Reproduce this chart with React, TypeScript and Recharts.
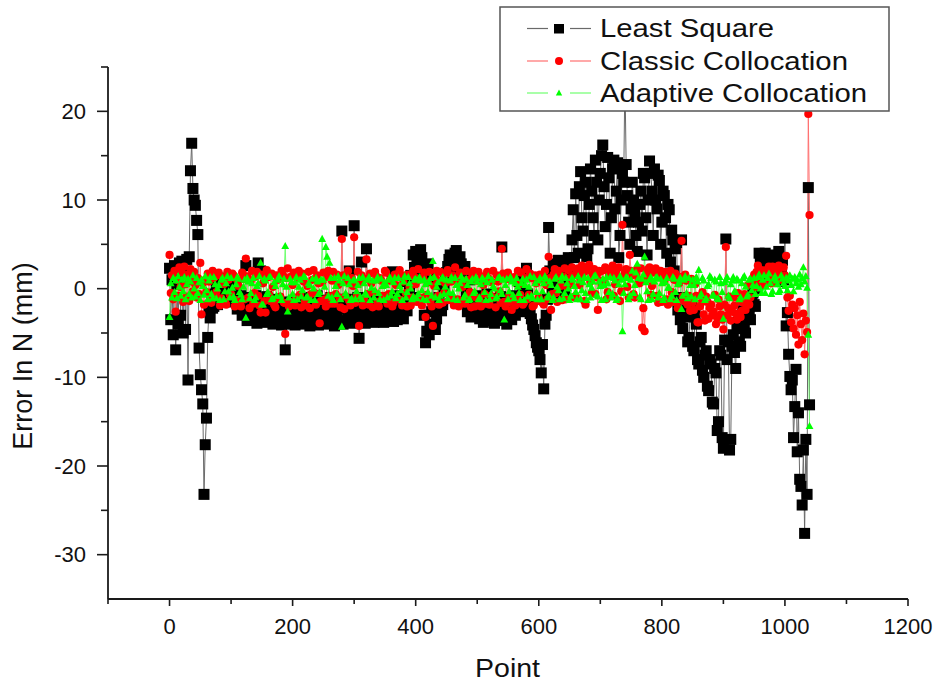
import React from 'react';
import { LineChart, Line, XAxis, YAxis } from 'recharts';

// Point index (x values)
const points = [
  0, 2, 4, 6, 8, 10, 12, 14, 16, 18, 20, 22, 24, 26, 28, 30, 32, 34, 36, 38, 40, 42, 44, 46, 48,
  50, 52, 54, 56, 58, 60, 62, 64, 66, 68, 70, 72, 74, 76, 78, 80, 82, 84, 86, 88, 90, 92, 94, 96, 98,
  100, 102, 104, 106, 108, 110, 112, 114, 116, 118, 120, 122, 124, 126, 128, 130, 132, 134, 136, 138, 140, 142, 144, 146, 148,
  150, 152, 154, 156, 158, 160, 162, 164, 166, 168, 170, 172, 174, 176, 178, 180, 182, 184, 186, 188, 190, 192, 194, 196, 198,
  200, 202, 204, 206, 208, 210, 212, 214, 216, 218, 220, 222, 224, 226, 228, 230, 232, 234, 236, 238, 240, 242, 244, 246, 248,
  250, 252, 254, 256, 258, 260, 262, 264, 266, 268, 270, 272, 274, 276, 278, 280, 282, 284, 286, 288, 290, 292, 294, 296, 298,
  300, 302, 304, 306, 308, 310, 312, 314, 316, 318, 320, 322, 324, 326, 328, 330, 332, 334, 336, 338, 340, 342, 344, 346, 348,
  350, 352, 354, 356, 358, 360, 362, 364, 366, 368, 370, 372, 374, 376, 378, 380, 382, 384, 386, 388, 390, 392, 394, 396, 398,
  400, 402, 404, 406, 408, 410, 412, 414, 416, 418, 420, 422, 424, 426, 428, 430, 432, 434, 436, 438, 440, 442, 444, 446, 448,
  450, 452, 454, 456, 458, 460, 462, 464, 466, 468, 470, 472, 474, 476, 478, 480, 482, 484, 486, 488, 490, 492, 494, 496, 498,
  500, 502, 504, 506, 508, 510, 512, 514, 516, 518, 520, 522, 524, 526, 528, 530, 532, 534, 536, 538, 540, 542, 544, 546, 548,
  550, 552, 554, 556, 558, 560, 562, 564, 566, 568, 570, 572, 574, 576, 578, 580, 582, 584, 586, 588, 590, 592, 594, 596, 598,
  600, 602, 604, 606, 608, 610, 612, 614, 616, 618, 620, 622, 624, 626, 628, 630, 632, 634, 636, 638, 640, 642, 644, 646, 648,
  650, 652, 654, 656, 658, 660, 662, 664, 666, 668, 670, 672, 674, 676, 678, 680, 682, 684, 686, 688, 690, 692, 694, 696, 698,
  700, 702, 704, 706, 708, 710, 712, 714, 716, 718, 720, 722, 724, 726, 728, 730, 732, 734, 736, 738, 740, 742, 744, 746, 748,
  750, 752, 754, 756, 758, 760, 762, 764, 766, 768, 770, 772, 774, 776, 778, 780, 782, 784, 786, 788, 790, 792, 794, 796, 798,
  800, 802, 804, 806, 808, 810, 812, 814, 816, 818, 820, 822, 824, 826, 828, 830, 832, 834, 836, 838, 840, 842, 844, 846, 848,
  850, 852, 854, 856, 858, 860, 862, 864, 866, 868, 870, 872, 874, 876, 878, 880, 882, 884, 886, 888, 890, 892, 894, 896, 898,
  900, 902, 904, 906, 908, 910, 912, 914, 916, 918, 920, 922, 924, 926, 928, 930, 932, 934, 936, 938, 940, 942, 944, 946, 948,
  950, 952, 954, 956, 958, 960, 962, 964, 966, 968, 970, 972, 974, 976, 978, 980, 982, 984, 986, 988, 990, 992, 994, 996, 998,
  1000, 1002, 1004, 1006, 1008, 1010, 1012, 1014, 1016, 1018, 1020, 1022, 1024, 1026, 1028, 1030, 1032, 1034, 1036, 1038, 1040,
];

// Least Square error (mm)
const leastSquare = [
  2.3, -3.5, 1.0, -5.2, 2.6, -6.9, 0.5, -4.0, 2.9, -3.0, 3.1, -5.0, 1.8, -4.6, 3.3, -10.3, 3.6, 13.3, 16.4, 11.3, 10.0, 9.4, 7.7, 6.1, -6.7,
  -9.7, -11.4, -13.0, -23.2, -17.6, -14.6, -5.5, -2.6, -3.3, -1.0, -2.2, -2.0, -0.6, 0.2, -1.8, -1.2, 0.4, 1.0, -0.8, 0.3, 1.1, 1.2, -1.2, -0.5, 0.6,
  0.8, -1.0, -1.5, -0.3, 0.2, -2.3, -2.0, -1.2, -0.8, -3.0, -2.6, -1.6, 2.6, -3.6, -2.8, -1.0, -1.5, -2.5, -3.4, -2.0, -0.8, -3.9, 2.9, -2.9, 2.0,
  -1.2, -2.2, -3.1, -3.8, -0.9, -1.6, -2.6, -3.2, -1.3, -4.0, -3.0, -2.5, -3.8, -1.2, -2.0, -3.6, -4.1, -2.8, -1.5, -6.9, -3.0, -3.9, -2.3, -1.8, -4.0,
  -3.3, -1.4, -4.1, -3.0, -2.2, -1.2, -3.5, -2.6, -1.0, -4.0, -3.9, -1.7, -2.6, -3.4, -4.2, -1.1, -1.8, -3.6, -3.0, -2.1, -0.8, -4.1, -3.7, -1.3, -2.4,
  -3.2, -4.0, -2.7, -1.5, -3.9, -3.3, -1.0, -2.0, -3.1, -4.2, -1.6, -2.8, -3.7, -1.2, -2.3, 6.5, -4.0, -3.6, -1.4, -2.1, -3.2, 2.0, -2.6, -3.9, -1.2,
  7.1, -3.0, -2.5, -1.0, -5.6, -3.2, 3.0, -2.4, -1.8, -3.9, 4.5, -1.1, -3.4, -2.6, -2.0, -0.9, -3.8, -2.9, -1.2, -2.2, -3.6, -1.0, -2.4, -3.3, -3.8,
  -2.0, -1.5, -3.0, -3.3, -1.0, -2.6, 1.9, -3.7, -2.2, -1.2, -3.5, -3.0, -0.8, -2.0, -3.2, -3.4, -1.3, 0.8, -2.5, -1.6, 0.2, 1.5, -1.0, 3.8, 2.4,
  4.2, 3.2, 2.9, 1.8, 4.4, 3.5, 1.5, -3.0, -6.1, -4.8, 2.8, -5.2, -4.0, -2.6, 1.2, -4.6, -4.6, -3.4, -2.0, -1.0, 0.5, -2.5, -1.8, 0.2, 1.0,
  1.8, 2.5, 3.3, 3.8, 2.8, 1.6, 3.4, 4.0, 4.3, 2.2, 1.5, 3.6, 2.8, -1.5, 0.6, 2.5, -0.5, -2.6, -1.8, 1.0, -3.2, -1.2, -2.2, -3.0, -0.8,
  -1.8, -2.7, -3.4, -2.3, -1.2, -3.8, -2.8, -1.8, -0.6, -3.0, -3.6, -1.1, -2.0, -3.3, -3.9, -2.4, -1.4, -3.6, -3.1, -0.9, 4.7, -1.8, -2.5, -3.3, -4.0,
  -2.9, -1.6, -2.6, -3.5, -1.9, -0.8, -3.0, -2.4, -1.2, 0.8, -2.6, -1.5, -0.4, 1.4, -1.0, 2.3, -0.6, -2.0, -2.8, -3.4, -4.1, -4.6, -5.3, -6.1, -6.6,
  -7.0, -8.0, -9.5, -6.3, -11.3, -4.0, -3.0, -1.2, 6.9, 2.0, 0.8, -0.5, 2.8, 1.5, -0.8, 1.0, 3.2, 2.0, 0.5, 3.0, 2.4, -0.3, 1.0, 2.8, 3.5,
  1.5, 2.0, 5.5, 8.9, 3.5, 10.7, 6.0, 4.0, 11.5, 13.2, 8.0, 6.5, 10.5, 12.0, 3.6, 4.5, 9.5, 13.5, 11.0, 8.0, 6.0, 14.5, 12.0, 5.5, 10.0,
  13.0, 15.0, 16.2, 11.5, 7.0, 9.5, 14.8, 12.5, 4.0, 8.0, 13.5, 14.5, 9.0, 11.0, 14.2, 3.5, 6.0, 10.0, 13.0, 12.0, 24.0, 14.0, 10.5, 7.5, 5.0,
  9.0, 12.0, 10.0, 8.6, 6.0, 4.2, 7.5, 9.5, 11.0, 6.5, 13.0, 12.5, 8.0, 3.8, 10.0, 14.4, 13.0, 11.0, 6.0, 13.5, 10.0, 9.0, 12.8, 12.2, 5.0,
  7.5, 11.0, 10.5, 8.0, 4.0, 9.5, 8.9, 3.0, 6.6, 5.5, 2.0, 4.5, 5.2, -2.4, -1.0, -3.5, 5.5, -4.5, -2.5, -1.0, -3.0, -6.0, -5.5, -3.2, -1.5,
  -6.5, -7.0, -2.8, -4.0, -8.0, -8.5, -6.0, -5.5, -9.2, -10.0, -7.5, -7.0, -11.0, -11.5, -8.0, -8.5, -12.8, -13.0, -9.0, -9.5, -16.0, -15.0, -7.0, -7.5, -16.8,
  -18.0, -5.8, 5.6, -8.0, -6.0, -18.2, -17.0, -6.5, -5.2, -7.2, -9.0, -4.5, -3.8, -6.0, -6.5, -3.0, -2.5, -4.2, -5.0, -2.2, -1.5, -3.0, -3.5, -1.0, -0.5,
  -1.8, -2.0, 0.0, 0.5, 4.0, 3.0, 1.5, 1.0, 2.6, 4.0, 3.0, 2.0, 1.0, 3.5, 2.8, 1.5, 3.0, 3.8, 1.2, 2.4, 4.2, 0.8, 2.0, 3.2, 1.0,
  5.7, -4.2, -2.7, -7.4, -9.9, -11.4, -10.3, -16.8, -13.3, -9.1, -18.4, -14.0, -21.5, -22.3, -24.4, -18.2, -27.6, -17.0, -23.2, 11.4, -13.1,
];

// Classic Collocation error (mm)
const classicCollocation = [
  3.8, -0.5, 1.5, -1.2, 2.0, -2.6, 1.0, -0.8, 2.4, 0.2, 1.8, -1.5, 2.5, 0.5, -0.9, 1.6, -1.4, 2.2, 0.8, -0.3, 1.9, 0.4, -1.0, 1.2, -0.6,
  2.9, -2.9, 0.6, -1.8, 1.0, -0.4, 1.7, 0.8, -1.3, -1.6, 2.0, 1.2, -0.9, -0.4, 1.5, 1.8, -1.9, -1.1, 1.3, 0.5, -1.5, -1.8, 1.9, 1.0, -0.7,
  -0.6, 1.7, 1.5, -2.0, -1.3, 1.0, 0.3, -1.6, -2.0, 1.8, 1.1, -1.2, 3.4, 1.4, -1.0, -2.2, 0.9, 2.0, -1.7, -0.5, 1.4, 1.9, -0.8, -1.9, -2.7,
  1.6, 0.6, -1.4, -2.7, 2.1, 1.3, -0.7, -1.4, 1.7, 0.2, -1.8, -2.1, 1.5, 1.0, -1.2, -0.9, 2.0, 1.6, -1.6, -5.1, 1.2, 2.3, -2.0, -1.5, 1.4,
  0.4, 1.8, -1.9, -1.0, 1.2, 2.0, -0.7, -2.1, 1.7, 0.8, -1.5, -1.9, 0.3, 1.9, -2.2, -0.6, 1.0, 2.1, -0.5, -1.8, 1.5, 0.6, -3.9, -1.4, 0.7,
  1.8, -1.2, -2.0, 1.3, 2.0, -0.8, -1.7, 0.9, 1.9, -1.7, -0.6, 1.6, 0.4, -1.0, -2.1, 5.6, 1.5, -2.3, -0.9, 0.8, 2.0, -1.4, -1.9, 1.2, 0.3,
  5.8, -1.6, -0.9, 1.9, -4.2, 0.7, 1.5, -1.9, -1.1, 1.1, 3.3, -0.6, -1.8, 1.7, 0.6, -2.1, -0.4, 1.9, 1.4, -1.5, -2.0, 1.2, 0.9, -0.8, -1.2,
  2.0, 1.8, -1.7, -0.6, 0.9, 1.1, -2.0, -1.6, 1.6, 0.4, -1.1, 1.7, 2.1, -1.3, -1.9, 0.8, 1.5, -0.5, -2.0, 1.6, 0.2, -1.9, -1.0, 2.0, 1.3,
  0.5, -1.5, 2.2, 1.0, -1.0, -1.9, 1.3, 1.8, -3.2, -0.7, 0.7, 1.9, -1.5, -2.0, -4.2, 0.3, 1.2, 2.0, -0.8, -1.8, 1.9, 0.9, -1.6, -0.5, 0.6,
  1.7, 2.1, -1.3, -0.9, 0.8, 1.5, -1.9, 2.4, 1.0, -1.2, -2.0, 1.8, 0.7, 0.2, -1.4, -1.7, 2.0, 1.0, -0.9, -0.4, -2.1, 1.6, 2.0, -2.0, -1.0,
  0.9, 1.9, -1.3, -2.0, 1.4, 0.4, -0.6, -1.7, 1.9, 1.2, -1.8, -0.8, 0.7, 2.0, -1.0, -2.1, 1.5, 0.8, -0.3, -1.6, 4.5, 1.7, -1.5, -2.0, 1.1,
  1.8, -0.8, -1.5, -2.4, 1.0, 1.3, -1.9, -1.1, 2.0, 0.5, -0.7, 1.8, -1.8, -1.6, 1.2, 2.2, -1.2, -0.7, 1.7, 1.2, -2.0, -1.9, 1.5, 0.6, -1.4,
  -1.0, 1.6, 1.1, -1.6, -1.8, 2.0, 0.4, -1.2, 3.6, 1.2, -2.4, -0.6, 1.6, 2.2, -0.5, -1.5, 2.0, 1.1, 0.3, -1.3, 1.4, 2.3, -1.2, 0.2, 2.1,
  1.2, 0.6, 2.4, 1.5, -1.0, -0.8, 1.9, 2.3, 0.4, 1.0, 2.6, 1.8, -1.4, -1.8, 2.0, 2.5, 2.7, 0.8, -0.5, 1.6, 2.2, -0.6, 1.3, -2.4, 2.0,
  1.9, 0.4, 0.9, 2.1, 2.4, -1.2, -0.4, 1.5, 1.7, 2.3, 2.6, -0.8, 0.5, 1.9, 1.2, 2.4, -1.4, -0.3, 7.2, 1.4, 1.8, 2.2, 0.2, -1.0, 3.8,
  2.0, 1.5, -0.6, -1.0, 1.6, 2.2, 1.0, 0.6, 2.3, -4.4, -2.2, -4.8, 1.0, 1.7, 2.2, 2.4, -0.7, 0.3, 1.8, 1.9, 2.3, -0.8, -1.6, 1.4, 2.0,
  -1.5, 1.2, 0.8, 1.9, -1.2, -1.8, 1.5, 2.0, -0.4, -1.5, 1.0, 1.7, -1.6, -2.2, 0.6, 1.3, 5.4, -0.9, -1.4, 1.6, 0.9, -1.8, -0.8, -2.5, 1.1,
  -1.6, -2.4, 0.5, -0.8, -3.8, -3.8, -2.0, -1.6, -0.4, -2.9, -3.6, -0.9, -1.5, -3.4, -2.2, -1.8, -3.0, -2.6, -0.7, -4.0, -3.3, -1.2, -2.0, -2.9, -3.5,
  -4.6, -1.8, 4.7, -3.0, -2.2, -0.9, -3.6, -2.6, -1.0, -1.9, -2.8, -3.5, -0.5, -1.4, -3.2, -2.5, -1.6, -0.6, -2.4, -1.2, 0.4, -1.8, -1.0, 0.8, 1.2,
  1.6, 0.2, 1.9, 2.6, 0.8, 1.0, 2.1, 1.8, 0.4, 0.5, 1.6, 2.2, 2.5, 1.4, 0.6, 2.5, 1.9, 0.9, 2.0, 1.7, 2.6, 2.3, 1.0, 1.1, 2.4,
  1.5, 3.7, -1.0, -2.5, -0.8, -3.8, -1.8, -4.5, -2.2, -5.2, -3.0, -6.3, -1.5, -4.0, -5.8, -2.8, -7.4, -3.6, -4.9, 19.7, 8.3,
];

// Adaptive Collocation error (mm)
const adaptiveCollocation = [
  -3.2, 0.6, -1.0, 1.2, -0.4, 0.9, -1.1, 1.4, 0.2, -0.8, 1.0, -0.3, 1.3, -1.2, 0.5, 1.1, -0.6, 0.8, -1.0, 1.5, 0.0, -0.9, 1.2, -0.5, 0.7,
  -1.3, 1.0, 0.3, -0.7, 1.4, -0.2, -1.2, 0.9, 1.3, -0.6, -1.1, 1.3, 0.5, -1.1, 0.0, 0.4, -1.3, 1.0, 1.2, -1.2, -0.3, 0.6, 1.4, -0.3, -1.0,
  1.2, 0.1, -0.9, -1.3, 0.5, 1.3, 1.1, -0.4, -0.7, -1.2, 0.2, 1.0, -3.3, 1.2, 0.8, -1.1, -0.5, 0.6, 1.2, -1.3, -1.0, 0.3, 0.6, 1.4, 2.9,
  -1.8, -1.8, 1.1, 0.9, -0.6, -0.4, 1.3, 1.3, -1.2, -1.1, 0.7, 0.3, -0.8, 1.0, 1.4, -0.8, -1.3, 0.5, 1.1, 4.8, 0.2, -2.6, -1.0, 1.1, 0.7,
  -0.6, -1.3, 0.7, 1.3, -1.2, 0.2, 1.0, -0.9, -0.2, 1.4, 1.3, -1.0, -0.9, 0.6, 0.4, -1.3, 1.1, 0.0, -1.3, 1.2, 0.8, -0.6, -0.4, 1.0, 5.6,
  1.0, 0.2, 4.7, 3.6, -0.8, 2.9, 1.2, -1.0, -1.3, 1.2, 0.3, -0.6, 1.4, 0.9, -1.2, -4.3, 0.6, 1.4, -0.5, -0.8, 1.2, 0.5, -1.3, -1.1, 0.9,
  1.0, -1.2, -0.3, 0.4, 1.2, -0.9, -1.2, 1.3, 0.6, -0.5, -0.7, 1.0, 1.3, -1.3, 0.1, 0.9, -1.0, -0.2, 0.9, 1.3, -0.5, -1.2, 1.1, 0.3, -1.3,
  0.7, 0.4, -1.0, 1.0, 1.3, -0.8, -0.3, 0.7, 1.2, -1.1, -0.6, 1.2, 0.3, -0.2, -1.3, 0.8, 1.4, -1.0, -0.4, 1.3, 0.6, 0.0, -1.2, -0.9, 1.0,
  1.1, -1.1, -0.6, 1.3, 0.9, -0.2, -1.2, 1.0, 0.5, -1.3, -0.4, 0.7, 1.2, -0.8, 3.1, 1.3, -1.0, 0.2, 0.7, -1.3, -0.8, 1.1, 1.3, -0.6, 0.2,
  1.0, -1.1, -0.4, 0.9, 1.3, -0.5, -1.2, 1.2, 0.4, -1.3, 0.0, 0.6, 1.4, 1.0, -1.0, -0.7, 1.1, 0.4, -1.3, -1.2, 0.8, 1.1, -0.5, -0.3, 1.3,
  0.8, -1.2, -1.0, 0.5, 1.2, 1.0, -0.4, -1.3, 0.7, 1.4, -1.2, -0.6, 1.0, 0.3, 0.0, -1.1, -0.9, 1.2, 1.3, -0.2, -0.6, 1.0, -3.5, 0.4, 1.1,
  -1.2, -0.3, 1.3, 0.8, -0.7, -1.1, 0.6, 1.2, 0.2, -0.5, -1.3, 0.6, 1.1, -1.3, 0.4, 1.0, -0.9, 0.2, 1.4, -0.8, -1.1, 1.3, 0.6, -0.4, -1.2,
  0.9, 1.2, -1.2, -0.3, 0.6, 1.4, 1.1, -1.0, -0.7, 0.8, 0.4, -1.3, -1.0, 1.1, 1.3, 0.2, -0.2, -1.2, 0.9, 1.4, -1.1, -0.5, 1.2, 0.6, 0.0,
  -1.3, -0.8, 1.2, 1.0, 0.3, -0.4, -1.2, 1.4, 0.9, -1.2, -0.2, 0.7, 1.3, -0.5, -1.3, 1.2, 0.5, -1.0, 0.1, 0.8, 1.4, 1.5, -0.7, -0.9, 0.8,
  0.3, -1.3, 1.1, 0.4, -1.2, 1.3, 0.6, -0.4, 1.3, -1.0, -0.6, 1.2, 0.9, -1.3, -1.1, 0.5, 1.4, 1.0, -4.8, -0.5, 0.5, 1.3, 1.2, -1.2, -0.8,
  1.0, 2.0, -0.5, 0.4, 1.8, 2.8, 1.2, -0.9, -1.2, 1.1, 1.6, 3.6, 0.7, -0.3, -1.3, 1.0, 1.3, -1.2, -0.6, 0.8, 1.2, 1.3, -1.0, -0.5, 1.1,
  0.6, -1.3, -1.0, 0.7, 1.2, 0.1, 0.1, -1.2, -0.8, 1.3, 1.1, -0.4, -1.3, 0.5, 0.7, 1.2, -2.3, -0.8, 1.0, 1.4, -0.5, -1.1, 1.2, 0.4, -0.9,
  1.0, 0.4, -1.2, 1.3, 0.8, 2.1, -0.9, -0.6, 1.2, 0.9, -1.3, -1.1, 0.3, 0.5, 1.4, 1.2, -0.8, -0.7, 1.0, 0.8, -1.1, -1.2, 1.3, 0.6, -0.4,
  -3.4, 0.7, 1.0, 1.3, -0.8, -1.1, 0.5, 0.9, 1.3, -0.3, -0.4, 1.1, 0.9, -1.2, -1.0, 0.6, 1.2, 1.4, 0.2, -0.9, -0.7, 1.0, 1.1, -0.2, 0.4,
  1.2, -0.6, 0.3, 1.3, 1.6, 0.0, -0.5, 1.0, 1.5, -0.5, 0.2, 1.2, 1.7, 0.6, -0.6, -0.3, 1.1, 1.4, 0.9, 0.5, -0.4, -0.2, 1.5, 1.1, 0.6,
  0.3, 1.2, -0.2, 0.9, 1.5, 0.4, 1.1, -0.3, 1.3, 0.6, 1.0, 0.2, 1.6, 0.5, 1.2, 2.4, 0.8, 1.4, 0.1, -5.2, -15.5,
];

const xTicks = [-100, 0, 100, 200, 300, 400, 500, 600, 700, 800, 900, 1000, 1100, 1200];
const yTicks = [-30, -25, -20, -15, -10, -5, 0, 5, 10, 15, 20, 25];
const seriesNames = ['Least Square', 'Classic Collocation', 'Adaptive Collocation'];

const data = points.map((x, i) => ({
  x,
  ls: leastSquare[i],
  cc: classicCollocation[i],
  ac: adaptiveCollocation[i],
}));

const FONT = '"Liberation Sans", Arial, Helvetica, sans-serif';
const AXIS = '#1a1a1a';

const SquareDot = (props: any) => {
  const { cx, cy, index } = props;
  if (cx == null || cy == null) return <g key={'s' + index} />;
  return <rect key={'s' + index} x={cx - 5.5} y={cy - 5.5} width={11} height={11} fill="#000" />;
};

const CircleDot = (props: any) => {
  const { cx, cy, index } = props;
  if (cx == null || cy == null) return <g key={'c' + index} />;
  return <circle key={'c' + index} cx={cx} cy={cy} r={4.1} fill="#ff0000" />;
};

const TriangleDot = (props: any) => {
  const { cx, cy, index } = props;
  if (cx == null || cy == null) return <g key={'t' + index} />;
  return (
    <polygon
      key={'t' + index}
      points={`${cx},${cy - 4.2} ${cx - 3.9},${cy + 2.9} ${cx + 3.9},${cy + 2.9}`}
      fill="#00ff00"
    />
  );
};

const YTick = (props: any) => {
  const { x, y, payload } = props;
  const v = payload.value;
  const major = v % 10 === 0;
  return (
    <g>
      <line x1={x - (major ? 11 : 7)} x2={x} y1={y} y2={y} stroke={AXIS} strokeWidth={1.6} />
      {major && (
        <text x={x - 22} y={y + 7.8} textAnchor="end" fontSize={22} fill="#111" fontFamily={FONT}>
          {v}
        </text>
      )}
    </g>
  );
};

const XTick = (props: any) => {
  const { x, y, payload } = props;
  const v = payload.value;
  const major = v % 200 === 0;
  return (
    <g>
      <line x1={x} x2={x} y1={y} y2={y + (major ? 7 : 5)} stroke={AXIS} strokeWidth={1.6} />
      {major && (
        <text x={x} y={y + 35} textAnchor="middle" fontSize={22} fill="#111" fontFamily={FONT}>
          {v}
        </text>
      )}
    </g>
  );
};

export default function App() {
  return (
    <div style={{ position: 'absolute', left: 0, top: 0, width: 937, height: 683, background: '#fff' }}>
      <LineChart
        width={937}
        height={683}
        data={data}
        margin={{ top: 67, right: 29, bottom: 34, left: 48 }}
      >
        <XAxis
          type="number"
          dataKey="x"
          domain={[-100, 1200]}
          ticks={xTicks}
          interval={0}
          height={50}
          tickSize={0}
          tickMargin={0}
          tickLine={false}
          axisLine={{ stroke: AXIS, strokeWidth: 1.8 }}
          tick={(p: any) => <XTick {...p} />}
        />
        <YAxis
          type="number"
          domain={[-35, 25]}
          ticks={yTicks}
          interval={0}
          width={60}
          tickSize={0}
          tickMargin={0}
          tickLine={false}
          axisLine={{ stroke: AXIS, strokeWidth: 1.8 }}
          tick={(p: any) => <YTick {...p} />}
        />
        <Line
          dataKey="ls"
          name={seriesNames[0]}
          stroke="#6a6a6a"
          strokeWidth={1}
          dot={SquareDot}
          activeDot={false}
          isAnimationActive={false}
        />
        <Line
          dataKey="cc"
          name={seriesNames[1]}
          stroke="#ff7070"
          strokeWidth={1}
          dot={CircleDot}
          activeDot={false}
          isAnimationActive={false}
        />
        <Line
          dataKey="ac"
          name={seriesNames[2]}
          stroke="#70ff70"
          strokeWidth={1}
          dot={TriangleDot}
          activeDot={false}
          isAnimationActive={false}
        />
      </LineChart>
      <svg
        width={937}
        height={683}
        style={{ position: 'absolute', left: 0, top: 0, pointerEvents: 'none' }}
      >
        <text
          x={507.5}
          y={677}
          textAnchor="middle"
          fontSize={26}
          fill="#111"
          fontFamily={FONT}
          textLength={65}
          lengthAdjust="spacingAndGlyphs"
        >
          Point
        </text>
        <text
          transform="translate(32,356) rotate(-90)"
          x={0}
          y={0}
          textAnchor="middle"
          fontSize={27}
          fill="#111"
          fontFamily={FONT}
        >
          Error In N (mm)
        </text>
        <rect x={500} y={7} width={389} height={104} fill="#fff" stroke="#555" strokeWidth={1.5} />
        <line x1={527} x2={548} y1={28.5} y2={28.5} stroke="#6a6a6a" strokeWidth={1.2} />
        <line x1={570} x2={591} y1={28.5} y2={28.5} stroke="#6a6a6a" strokeWidth={1.2} />
        <rect x={554} y={24} width={10} height={9.5} fill="#000" />
        <text x={600} y={37} fontSize={25} fill="#111" fontFamily={FONT} textLength={174} lengthAdjust="spacingAndGlyphs">
          {seriesNames[0]}
        </text>
        <line x1={527} x2={548} y1={61} y2={61} stroke="#ff7070" strokeWidth={1.2} />
        <line x1={570} x2={591} y1={61} y2={61} stroke="#ff7070" strokeWidth={1.2} />
        <circle cx={559} cy={61} r={4} fill="#ff0000" />
        <text x={600} y={70} fontSize={25} fill="#111" fontFamily={FONT} textLength={248} lengthAdjust="spacingAndGlyphs">
          {seriesNames[1]}
        </text>
        <line x1={527} x2={548} y1={93} y2={93} stroke="#70ff70" strokeWidth={1.2} />
        <line x1={570} x2={591} y1={93} y2={93} stroke="#70ff70" strokeWidth={1.2} />
        <polygon points="559,89.5 555.8,95.5 562.2,95.5" fill="#00ff00" />
        <text x={600} y={102} fontSize={25} fill="#111" fontFamily={FONT} textLength={267} lengthAdjust="spacingAndGlyphs">
          {seriesNames[2]}
        </text>
      </svg>
    </div>
  );
}
